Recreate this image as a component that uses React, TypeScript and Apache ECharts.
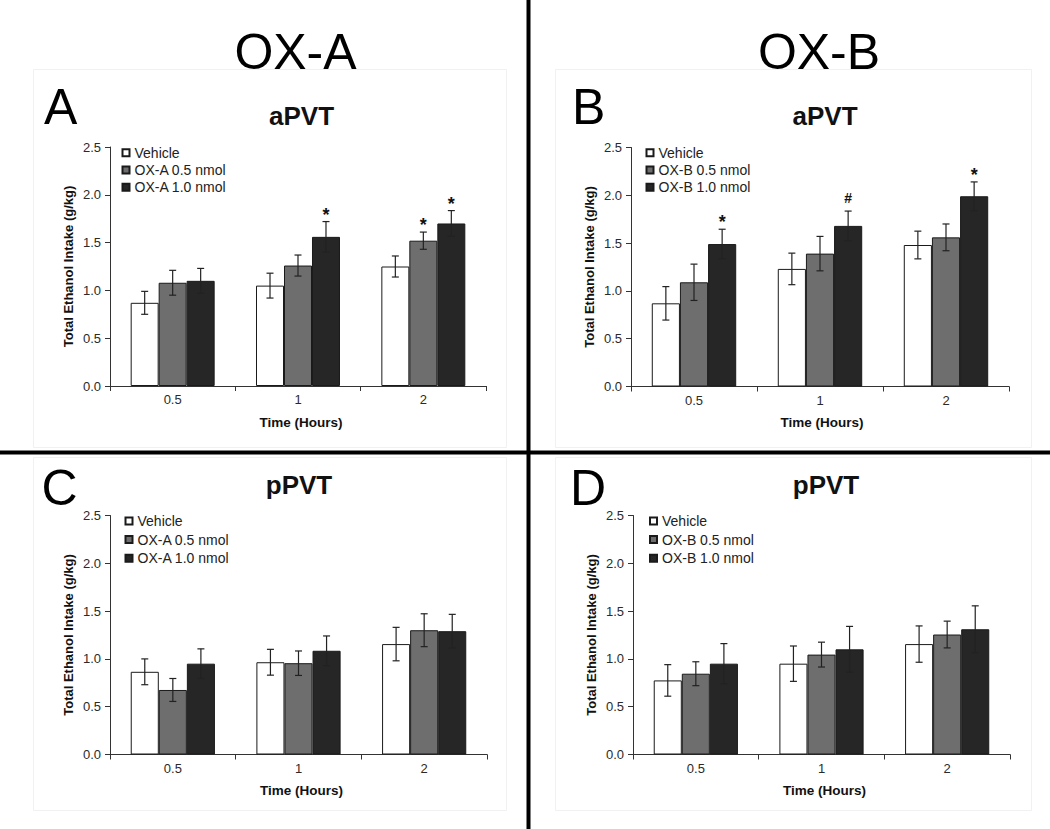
import React, { useEffect, useRef } from "react";
import * as echarts from "echarts";

// ---------- data ----------
const categories = ["0.5", "1", "2"];

// Panel A (aPVT, OX-A)
const vehicleA = [0.87, 1.05, 1.25];
const vehicleAErr = [0.12, 0.13, 0.11];
const oxA05A = [1.08, 1.26, 1.52];
const oxA05AErr = [0.13, 0.11, 0.09];
const oxA10A = [1.1, 1.56, 1.7];
const oxA10AErr = [0.13, 0.16, 0.135];
const oxA05ASig = ["", "", "*"];
const oxA10ASig = ["", "*", "*"];

// Panel B (aPVT, OX-B)
const vehicleB = [0.87, 1.23, 1.48];
const vehicleBErr = [0.175, 0.165, 0.145];
const oxB05B = [1.09, 1.39, 1.56];
const oxB05BErr = [0.19, 0.18, 0.14];
const oxB10B = [1.49, 1.68, 1.99];
const oxB10BErr = [0.155, 0.155, 0.15];
const oxB10BSig = ["*", "#", "*"];

// Panel C (pPVT, OX-A)
const vehicleC = [0.865, 0.965, 1.155];
const vehicleCErr = [0.135, 0.135, 0.175];
const oxA05C = [0.675, 0.955, 1.3];
const oxA05CErr = [0.12, 0.128, 0.172];
const oxA10C = [0.95, 1.085, 1.29];
const oxA10CErr = [0.155, 0.155, 0.176];

// Panel D (pPVT, OX-B)
const vehicleD = [0.775, 0.95, 1.155];
const vehicleDErr = [0.165, 0.185, 0.19];
const oxB05D = [0.845, 1.045, 1.255];
const oxB05DErr = [0.125, 0.13, 0.14];
const oxB10D = [0.95, 1.1, 1.31];
const oxB10DErr = [0.21, 0.24, 0.245];

const noSig = ["", "", ""];

const seriesNamesA = ["Vehicle", "OX-A 0.5 nmol", "OX-A 1.0 nmol"];
const seriesNamesB = ["Vehicle", "OX-B 0.5 nmol", "OX-B 1.0 nmol"];

const yMin = 0;
const yMax = 2.5;
const yInterval = 0.5;

const yAxisTitle = "Total Ethanol Intake (g/kg)";
const xAxisTitle = "Time (Hours)";

// ---------- styles ----------
const FONT = "'Liberation Sans', Arial, Helvetica, sans-serif";
const barFills = ["#ffffff", "#6e6e6e", "#262626"];
const CAT_GAP = 0.33;

const panels = [
  {
    grid: { left: 110, top: 147, width: 376, height: 239 },
    legend: { left: 121.5, top: 145.7, gap: 3.3 },
    names: seriesNamesA,
    means: [vehicleA, oxA05A, oxA10A],
    errs: [vehicleAErr, oxA05AErr, oxA10AErr],
    sigs: [noSig, oxA05ASig, oxA10ASig],
    letter: { text: "A", x: 44, y: 106.7 },
    sub: { text: "aPVT", x: 301.5, y: 116 },
    namePad: 6,
  },
  {
    grid: { left: 631, top: 147.5, width: 378, height: 239 },
    legend: { left: 645.5, top: 145.7, gap: 3.3 },
    names: seriesNamesB,
    means: [vehicleB, oxB05B, oxB10B],
    errs: [vehicleBErr, oxB05BErr, oxB10BErr],
    sigs: [noSig, noSig, oxB10BSig],
    letter: { text: "B", x: 572, y: 106.7 },
    sub: { text: "aPVT", x: 825, y: 116 },
    namePad: 4,
  },
  {
    grid: { left: 110, top: 515.5, width: 377, height: 239 },
    legend: { left: 124.5, top: 514, gap: 4.6 },
    names: seriesNamesA,
    means: [vehicleC, oxA05C, oxA10C],
    errs: [vehicleCErr, oxA05CErr, oxA10CErr],
    sigs: [noSig, noSig, noSig],
    letter: { text: "C", x: 41.5, y: 488 },
    sub: { text: "pPVT", x: 299, y: 484.5 },
    namePad: 6,
  },
  {
    grid: { left: 633, top: 515.5, width: 377, height: 239 },
    legend: { left: 649, top: 514, gap: 4.6 },
    names: seriesNamesB,
    means: [vehicleD, oxB05D, oxB10D],
    errs: [vehicleDErr, oxB05DErr, oxB10DErr],
    sigs: [noSig, noSig, noSig],
    letter: { text: "D", x: 570, y: 487.5 },
    sub: { text: "pPVT", x: 826, y: 484.5 },
    namePad: 6,
  },
];

function buildOption() {
  const grids: any[] = [];
  const xAxes: any[] = [];
  const yAxes: any[] = [];
  const legends: any[] = [];
  const series: any[] = [];
  const graphics: any[] = [];

  panels.forEach((p, gi) => {
    grids.push({ ...p.grid, containLabel: false });
    xAxes.push({
      type: "category",
      gridIndex: gi,
      data: categories,
      boundaryGap: true,
      axisLine: { show: true, lineStyle: { color: "#333", width: 1 } },
      axisTick: { show: true, length: 5, inside: false, alignWithLabel: false, interval: 0, lineStyle: { color: "#333" } },
      axisLabel: { interval: 0, margin: 7, fontSize: 13, color: "#2a2a2a", fontFamily: FONT },
      splitLine: { show: false },
      name: xAxisTitle,
      nameLocation: "middle",
      nameGap: 29,
      nameTextStyle: { fontSize: 13.5, fontWeight: "bold", color: "#111", fontFamily: FONT, padding: [0, 0, 0, p.namePad] },
    });
    yAxes.push({
      type: "value",
      gridIndex: gi,
      min: yMin,
      max: yMax,
      interval: yInterval,
      axisLine: { show: true, lineStyle: { color: "#333", width: 1 } },
      axisTick: { show: true, length: 5, inside: false, lineStyle: { color: "#333" } },
      axisLabel: {
        margin: 9,
        fontSize: 13,
        color: "#2a2a2a",
        fontFamily: FONT,
        formatter: (v: number) => v.toFixed(1),
      },
      splitLine: { show: false },
      name: yAxisTitle,
      nameLocation: "middle",
      nameRotate: 90,
      nameGap: 35,
      nameTextStyle: { fontSize: 13, fontWeight: "bold", color: "#111", fontFamily: FONT },
    });
    legends.push({
      orient: "vertical",
      left: p.legend.left,
      top: p.legend.top,
      padding: 0,
      itemGap: p.legend.gap,
      itemWidth: 7,
      itemHeight: 7,
      icon: "rect",
      selectedMode: false,
      data: p.names,
      textStyle: { fontSize: 14, lineHeight: 14, color: "#222", fontFamily: FONT },
    });

    p.names.forEach((nm, si) => {
      series.push({
        type: "bar",
        name: nm,
        xAxisIndex: gi,
        yAxisIndex: gi,
        data: p.means[si],
        barGap: "0%",
        barCategoryGap: CAT_GAP * 100 + "%",
        itemStyle: { color: barFills[si], borderColor: "#1a1a1a", borderWidth: 1 },
        emphasis: { disabled: true },
        z: 2,
      });
    });

    const items: number[][] = [];
    const sigList: string[] = [];
    for (let si = 0; si < 3; si++) {
      for (let ci = 0; ci < categories.length; ci++) {
        items.push([ci, si, p.means[si][ci], p.errs[si][ci]]);
        sigList.push(p.sigs[si][ci]);
      }
    }
    series.push({
      type: "custom",
      name: "err" + gi,
      xAxisIndex: gi,
      yAxisIndex: gi,
      silent: true,
      z: 5,
      data: items,
      encode: { x: 0, y: 2 },
      renderItem: (params: any, api: any) => {
        const c = api.value(0);
        const s = api.value(1);
        const m = api.value(2);
        const e = api.value(3);
        const band = api.size([1, 0])[0];
        const bw = (band * (1 - CAT_GAP)) / 3;
        const cx = api.coord([c, m])[0] + (s - 1) * bw;
        const yTop = api.coord([c, m + e])[1];
        const yBot = api.coord([c, m - e])[1];
        const cap = 3.5;
        const st = { stroke: "#222", lineWidth: 1.2 };
        const children: any[] = [
          { type: "line", shape: { x1: cx, y1: yTop, x2: cx, y2: yBot }, style: st },
          { type: "line", shape: { x1: cx - cap, y1: yTop, x2: cx + cap, y2: yTop }, style: st },
          { type: "line", shape: { x1: cx - cap, y1: yBot, x2: cx + cap, y2: yBot }, style: st },
        ];
        const sig = sigList[params.dataIndex];
        if (sig) {
          const isStar = sig === "*";
          children.push({
            type: "text",
            style: {
              text: sig,
              x: cx,
              y: isStar ? yTop - 7 : yTop - 13,
              fill: "#111",
              font: isStar ? `bold 18px ${FONT}` : `bold 14px ${FONT}`,
              align: "center",
              verticalAlign: "middle",
              textAlign: "center",
              textVerticalAlign: "middle",
            },
          });
        }
        return { type: "group", children };
      },
    });

    graphics.push({
      type: "text",
      style: {
        text: p.letter.text,
        x: p.letter.x,
        y: p.letter.y,
        font: `50px ${FONT}`,
        fill: "#000",
        textAlign: "left",
        textVerticalAlign: "middle",
        align: "left",
        verticalAlign: "middle",
      },
      z: 10,
    });
    graphics.push({
      type: "text",
      style: {
        text: p.sub.text,
        x: p.sub.x,
        y: p.sub.y,
        font: `bold 26px ${FONT}`,
        fill: "#111",
        textAlign: "center",
        textVerticalAlign: "middle",
        align: "center",
        verticalAlign: "middle",
      },
      z: 10,
    });
  });

  // group titles
  [
    { text: "OX-A", x: 295.5, y: 51.5 },
    { text: "OX-B", x: 819, y: 51.5 },
  ].forEach((t) => {
    graphics.push({
      type: "text",
      style: {
        text: t.text,
        x: t.x,
        y: t.y,
        font: `50px ${FONT}`,
        fill: "#000",
        textAlign: "center",
        textVerticalAlign: "middle",
        align: "center",
        verticalAlign: "middle",
      },
      z: 10,
    });
  });

  // faint panel frames
  const frameStyle = { fill: "none", stroke: "#f1f1f1", lineWidth: 1 };
  [
    { x: 33.5, y: 69.5, width: 473, height: 378 },
    { x: 555.5, y: 69.5, width: 476, height: 378 },
    { x: 33.5, y: 457.5, width: 473, height: 353 },
    { x: 555.5, y: 457.5, width: 476, height: 353 },
  ].forEach((r) => {
    graphics.push({ type: "rect", shape: r, style: frameStyle, z: 0, silent: true });
  });

  // thick dividers
  graphics.push({
    type: "line",
    shape: { x1: 528.5, y1: 0, x2: 528.5, y2: 829 },
    style: { stroke: "#000", lineWidth: 4 },
    z: 20,
  });
  graphics.push({
    type: "line",
    shape: { x1: 0, y1: 452.5, x2: 1050, y2: 452.5 },
    style: { stroke: "#000", lineWidth: 4 },
    z: 20,
  });

  return {
    animation: false,
    backgroundColor: "#ffffff",
    textStyle: { fontFamily: FONT },
    grid: grids,
    xAxis: xAxes,
    yAxis: yAxes,
    legend: legends,
    series,
    graphic: graphics,
  };
}

export default function App() {
  const ref = useRef<HTMLDivElement>(null);
  useEffect(() => {
    document.body.style.margin = "0";
    const chart = echarts.init(ref.current as HTMLDivElement, null, { renderer: "svg" });
    chart.setOption(buildOption() as any);
    return () => chart.dispose();
  }, []);
  return <div ref={ref} style={{ width: 1050, height: 829, background: "#fff" }} />;
}
